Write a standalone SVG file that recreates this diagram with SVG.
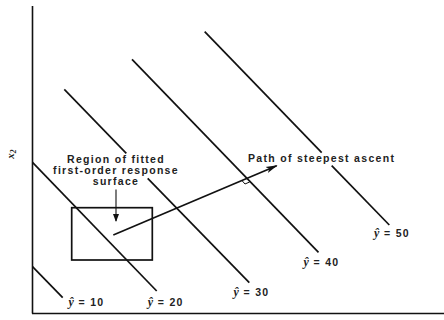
<svg xmlns="http://www.w3.org/2000/svg" width="444" height="320" viewBox="0 0 444 320">
<style>
.ln{stroke:#111;stroke-width:1.7;fill:none;stroke-linecap:butt}
.ax{stroke:#111;stroke-width:1.6;fill:none}
.t{font-family:"Liberation Sans",Arial,sans-serif;font-size:10.5px;font-weight:bold;letter-spacing:1.3px;fill:#222}
.yh{font-family:"Liberation Serif","Times New Roman",serif;font-style:italic;font-weight:bold;font-size:12px;letter-spacing:0.5px}
</style>
<defs>
<marker id="ah" markerWidth="12" markerHeight="8" refX="11" refY="4" orient="auto" markerUnits="userSpaceOnUse">
<path d="M0,0.8 L12,4 L0,7.2 L3,4 Z" fill="#111"/>
</marker>
<marker id="ahd" markerWidth="8" markerHeight="10" refX="7" refY="4" orient="auto" markerUnits="userSpaceOnUse">
<path d="M0,1 L8,4 L0,7 Z" fill="#111"/>
</marker>
</defs>
<rect width="444" height="320" fill="#fff"/>
<g id="axes">
<line class="ax" x1="32.5" y1="6" x2="32.5" y2="313.5"/>
<line class="ax" x1="32" y1="313.5" x2="444" y2="313.5"/>
<text x="14" y="154" font-size="11" font-weight="bold" fill="#222" font-family="Liberation Serif, serif" font-style="italic" transform="rotate(-90 14 154)" text-anchor="middle">x<tspan font-size="7.5" dy="2">2</tspan></text>
</g>
<g id="contour-10">
<line class="ln" x1="32.5" y1="266.7" x2="62.7" y2="297.7"/>
<text class="t" x="68.5" y="305.5"><tspan class="yh">ŷ</tspan> = 10</text>
</g>
<g id="contour-20">
<line class="ln" x1="32.5" y1="162.3" x2="156.7" y2="291"/>
<text class="t" x="147.7" y="305.5"><tspan class="yh">ŷ</tspan> = 20</text>
</g>
<g id="contour-30">
<line class="ln" x1="64.3" y1="89.3" x2="126.3" y2="153.3"/>
<line class="ln" x1="147.7" y1="178.3" x2="249.3" y2="282.7"/>
<text class="t" x="233.5" y="295.5"><tspan class="yh">ŷ</tspan> = 30</text>
</g>
<g id="contour-40">
<line class="ln" x1="132" y1="59.3" x2="318.5" y2="252.3"/>
<text class="t" x="303.5" y="265.5"><tspan class="yh">ŷ</tspan> = 40</text>
</g>
<g id="contour-50">
<line class="ln" x1="204.7" y1="31.7" x2="321.7" y2="152.7"/>
<line class="ln" x1="331.7" y1="165.7" x2="389.3" y2="225"/>
<text class="t" x="374" y="236.5"><tspan class="yh">ŷ</tspan> = 50</text>
</g>
<g id="region">
<rect class="ln" x="71.7" y="207.7" width="80.6" height="52.3"/>
<text class="t" x="116" y="162.5" text-anchor="middle">Region of fitted</text>
<text class="t" x="116" y="174" text-anchor="middle">first-order response</text>
<text class="t" x="116" y="185" text-anchor="middle">surface</text>
</g>
<g id="path-label">
<text class="t" x="248" y="162">Path of steepest ascent</text>
</g>
<g id="connectors">
<line class="ax" x1="116" y1="189.5" x2="116" y2="221" marker-end="url(#ahd)" style="stroke-width:1.1"/>
<line class="ln" x1="113.3" y1="235" x2="276.7" y2="165.7" marker-end="url(#ah)"/>
<path class="ax" d="M241.8,180.4 L245,184 L249.6,182" style="stroke-width:1"/>
</g>
</svg>
